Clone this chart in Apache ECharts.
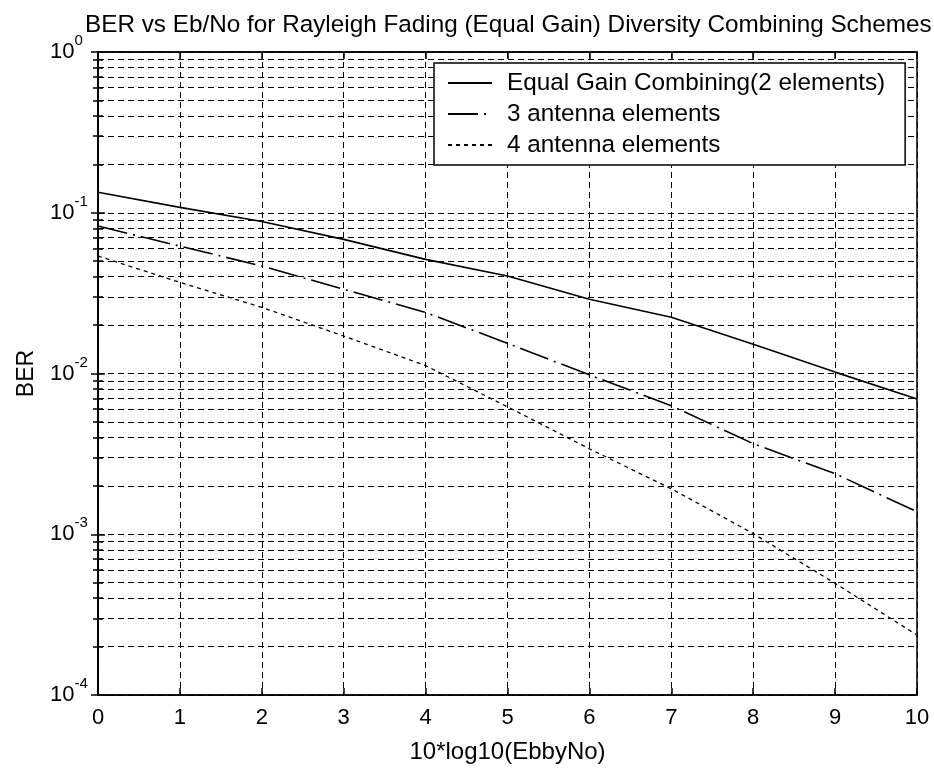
<!DOCTYPE html>
<html><head><meta charset="utf-8">
<script src="https://cdn.jsdelivr.net/npm/echarts@6/dist/echarts.min.js"></script>
<style>html,body{margin:0;padding:0;background:#fff}#c{width:934px;height:769px}</style>
</head><body><div id="c"></div>
<script>
const xValues = [0, 1, 2, 3, 4, 5, 6, 7, 8, 9, 10];
const egc2 = [0.134, 0.108, 0.0883, 0.0683, 0.0513, 0.0404, 0.029, 0.0224, 0.0152, 0.0102, 0.00695];
const ant3 = [0.0826, 0.062, 0.0466, 0.0334, 0.024, 0.0154, 0.0098, 0.0063, 0.00366, 0.00238, 0.00138];
const ant4 = [0.0538, 0.0369, 0.0258, 0.0171, 0.0112, 0.0062, 0.0034, 0.00192, 0.00101, 0.000495, 0.000236];
const seriesNames = ['Equal Gain Combining(2 elements)', '3 antenna elements', '4 antenna elements'];

const FONT = '"Liberation Sans", Arial, sans-serif';
const chart = echarts.init(document.getElementById('c'), null, {renderer: 'canvas'});
const pair = arr => xValues.map((x, i) => [x, arr[i]]);
const grid = {left: 98, right: 17, top: 52, bottom: 72};
const tickStyle = {color: '#000', width: 1.5};
const gridLine = {color: '#000', type: [6, 4], width: 1};

const option = {
  backgroundColor: '#fff',
  animation: false,
  title: {
    text: 'BER vs Eb/No for Rayleigh Fading (Equal Gain) Diversity Combining Schemes',
    left: 80, top: 8,
    textStyle: {fontFamily: FONT, fontSize: 24.3, fontWeight: 'normal', color: '#000'}
  },
  grid: Object.assign({show: true, borderColor: '#000', borderWidth: 1.5, backgroundColor: 'transparent'}, grid),
  legend: {
    left: 434, top: 63, orient: 'vertical',
    backgroundColor: '#fff', borderColor: '#000', borderWidth: 1.5,
    padding: [8, 20, 8, 13], itemGap: 7, itemWidth: 44, itemHeight: 14,
    itemStyle: {opacity: 0},
    textStyle: {fontFamily: FONT, fontSize: 24.3, color: '#000', lineHeight: 24, padding: [0, 0, 0, 10]},
    data: seriesNames
  },
  xAxis: [{
    type: 'value', min: 0, max: 10, interval: 1,
    name: '10*log10(EbbyNo)', nameLocation: 'middle', nameGap: 45,
    nameTextStyle: {fontFamily: FONT, fontSize: 24, color: '#000'},
    axisLine: {show: true, lineStyle: tickStyle},
    axisTick: {show: true, inside: true, length: 7, lineStyle: tickStyle},
    axisLabel: {fontFamily: FONT, fontSize: 22, color: '#000', margin: 12},
    splitLine: {show: true, lineStyle: gridLine}
  }, {
    type: 'value', min: 0, max: 10, interval: 1, position: 'top',
    axisLine: {show: true, lineStyle: tickStyle},
    axisTick: {show: true, inside: true, length: 7, lineStyle: tickStyle},
    axisLabel: {show: false}, splitLine: {show: false}
  }],
  yAxis: [{
    type: 'log', logBase: 10, min: 1e-4, max: 1,
    name: 'BER', nameLocation: 'middle', nameGap: 60,
    nameTextStyle: {fontFamily: FONT, fontSize: 23, color: '#000'},
    axisLine: {show: true, lineStyle: tickStyle},
    axisTick: {show: true, inside: true, length: 7, lineStyle: tickStyle},
    minorTick: {show: true, splitNumber: 9, length: 5, lineStyle: tickStyle},
    minorSplitLine: {show: true, lineStyle: gridLine},
    axisLabel: {
      align: 'left', margin: 48,
      formatter: v => '{b|10}{e|' + Math.round(Math.log10(v)) + '}',
      rich: {
        b: {fontFamily: FONT, fontSize: 22, color: '#000'},
        e: {fontFamily: FONT, fontSize: 15, color: '#000', padding: [0, 0, 22, 0]}
      }
    },
    splitLine: {show: true, lineStyle: gridLine}
  }, {
    type: 'log', logBase: 10, min: 1e-4, max: 1, position: 'right',
    axisLine: {show: true, lineStyle: tickStyle},
    axisTick: {show: true, inside: true, length: 7, lineStyle: tickStyle},
    minorTick: {show: true, splitNumber: 9, length: 5, lineStyle: tickStyle},
    axisLabel: {show: false}, splitLine: {show: false}
  }],
  series: [
    {name: seriesNames[0], type: 'line', data: pair(egc2), showSymbol: false, symbol: 'none',
     lineStyle: {color: '#000', width: 1.6, type: 'solid'}, itemStyle: {color: '#000'}},
    {name: seriesNames[1], type: 'line', data: pair(ant3), showSymbol: false, symbol: 'none',
     lineStyle: {color: '#000', width: 1.6, type: [30, 6, 2, 6]}, itemStyle: {color: '#000'}},
    {name: seriesNames[2], type: 'line', data: pair(ant4), showSymbol: false, symbol: 'none',
     lineStyle: {color: '#000', width: 1.3, type: [4, 4]}, itemStyle: {color: '#000'}}
  ]
};
chart.setOption(option);
</script></body></html>
